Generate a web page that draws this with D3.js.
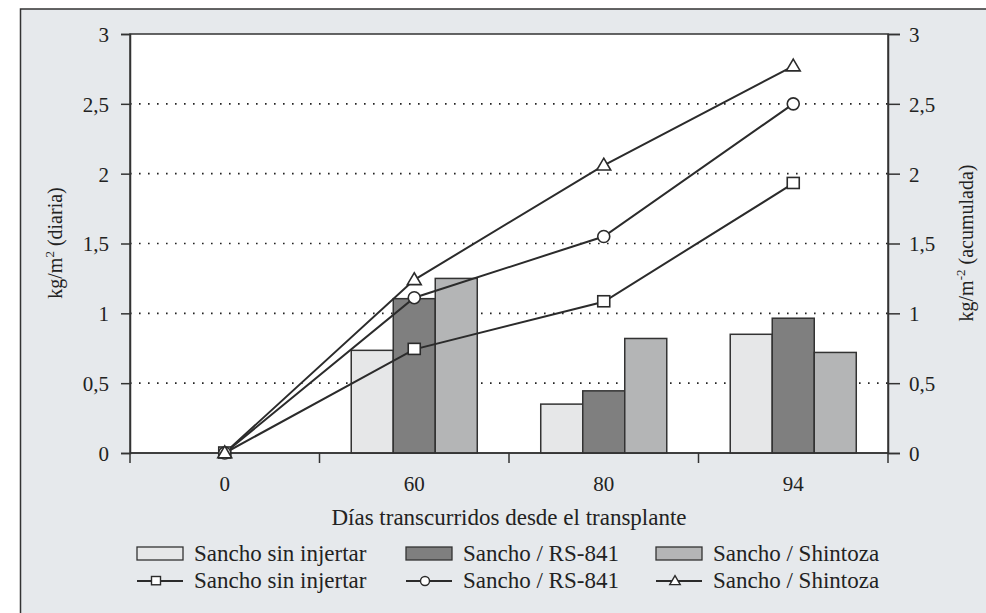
<!DOCTYPE html>
<html>
<head>
<meta charset="utf-8">
<script src="https://cdn.jsdelivr.net/npm/d3@7"></script>
<style>
  body { margin: 0; background: #fff; }
  svg { display: block; font-family: "Liberation Serif", "Times New Roman", serif; }
  .axis path, .axis line { stroke: #333; stroke-width: 1.5; }
  .axis text { font-size: 21px; fill: #222; font-family: "Liberation Serif", "Times New Roman", serif; }
</style>
</head>
<body>
<svg width="986" height="613"></svg>
<script>
// days since transplant (x categories)
const days = ['0', '60', '80', '94'];
const series = ['Sancho sin injertar', 'Sancho / RS-841', 'Sancho / Shintoza'];

// kg/m2 daily (bars) - no bars at day 0
const diaSinInjertar = [null, 0.735, 0.35, 0.85];
const diaRS841 = [null, 1.105, 0.445, 0.965];
const diaShintoza = [null, 1.25, 0.82, 0.72];

// kg/m2 accumulated (lines)
const acuSinInjertar = [0, 0.742, 1.083, 1.93];
const acuRS841 = [0, 1.112, 1.55, 2.50];
const acuShintoza = [0, 1.24, 2.06, 2.77];

const yTicks = [0, 0.5, 1, 1.5, 2, 2.5, 3];
const barColors = ['#e6e7e8', '#7f7f7f', '#b4b5b6'];
const markers = ['square', 'circle', 'triangle'];

const svg = d3.select('svg');
const fmt = (d) => String(d).replace('.', ',');

const plotLeft = 130, plotRight = 888, plotTop = 34, plotBottom = 453;

// grey page panel
svg.append('rect')
  .attr('x', 20.5).attr('y', 9)
  .attr('width', 1000).attr('height', 700)
  .attr('fill', '#e6e9ec')
  .attr('stroke', '#333').attr('stroke-width', 1.5);

const x = d3.scaleBand().domain(days).range([plotLeft, plotRight]).padding(0);
const groupW = x.bandwidth() * 0.665;
const xSub = d3.scaleBand().domain(series).range([0, groupW]).padding(0);
const y = d3.scaleLinear().domain([0, 3]).range([plotBottom, plotTop]);
const y2 = d3.scaleLinear().domain([0, 3]).range([plotBottom, plotTop]);

// plot background + frame
svg.append('rect')
  .attr('x', plotLeft).attr('y', plotTop)
  .attr('width', plotRight - plotLeft).attr('height', plotBottom - plotTop)
  .attr('fill', '#fff')
  .attr('stroke', '#333').attr('stroke-width', 1.5);

// dotted grid
svg.append('g')
  .selectAll('line')
  .data(yTicks.filter((t) => t > 0 && t < 3))
  .enter()
  .append('line')
  .attr('x1', plotLeft).attr('x2', plotRight)
  .attr('y1', (d) => y(d)).attr('y2', (d) => y(d))
  .attr('stroke', '#222')
  .attr('stroke-width', 1.6)
  .attr('stroke-dasharray', '1.6,7.4');

// bars
const barData = [diaSinInjertar, diaRS841, diaShintoza];
const barGroups = svg.append('g')
  .selectAll('g')
  .data(series)
  .enter()
  .append('g')
  .attr('fill', (s, i) => barColors[i]);

barGroups.selectAll('rect')
  .data((s, i) => days.map((d, j) => ({ day: d, serie: s, value: barData[i][j] })).filter((d) => d.value !== null))
  .enter()
  .append('rect')
  .attr('x', (d) => x(d.day) + (x.bandwidth() - groupW) / 2 + xSub(d.serie))
  .attr('y', (d) => y(d.value))
  .attr('width', xSub.bandwidth())
  .attr('height', (d) => y(0) - y(d.value))
  .attr('stroke', '#333')
  .attr('stroke-width', 1.5);

// axes
const axisLeft = d3.axisLeft(y).tickValues(yTicks).tickFormat(fmt).tickSize(9).tickPadding(12);
const axisRight = d3.axisRight(y2).tickValues(yTicks).tickFormat(fmt).tickSize(12).tickPadding(9);
const axisBottom = d3.axisBottom(x).tickSize(0).tickPadding(23);

svg.append('g').attr('class', 'axis').attr('transform', `translate(${plotLeft},0)`).call(axisLeft);
svg.append('g').attr('class', 'axis').attr('transform', `translate(${plotRight},0)`).call(axisRight);
const xa = svg.append('g').attr('class', 'axis').attr('transform', `translate(0,${plotBottom})`).call(axisBottom);
xa.select('.domain').remove();
svg.selectAll('.axis text').attr('dy', '0.35em');
xa.selectAll('text').attr('dy', '0.71em');

// x ticks at the band boundaries
svg.append('g')
  .selectAll('line')
  .data(days.concat(['end']))
  .enter()
  .append('line')
  .attr('x1', (d) => d === 'end' ? plotRight : x(d))
  .attr('x2', (d) => d === 'end' ? plotRight : x(d))
  .attr('y1', plotBottom).attr('y2', plotBottom + 10)
  .attr('stroke', '#333').attr('stroke-width', 1.5);
svg.append('line')
  .attr('x1', plotLeft).attr('x2', plotRight)
  .attr('y1', plotBottom).attr('y2', plotBottom)
  .attr('stroke', '#333').attr('stroke-width', 1.5);

// accumulated lines
const lineData = [acuSinInjertar, acuRS841, acuShintoza];
const cx = (d) => x(d) + x.bandwidth() / 2;
const line = d3.line()
  .x((d) => cx(d.day))
  .y((d) => y2(d.value));

function drawMarker(g, type, px, py, size) {
  if (type === 'square') {
    g.append('rect')
      .attr('x', px - size / 2).attr('y', py - size / 2)
      .attr('width', size).attr('height', size * 0.92);
  } else if (type === 'circle') {
    g.append('circle').attr('cx', px).attr('cy', py).attr('r', size / 2);
  } else {
    const h = size * 0.95;
    g.append('path')
      .attr('d', `M${px},${py - h * 0.62}L${px + size * 0.58},${py + h * 0.42}L${px - size * 0.58},${py + h * 0.42}Z`);
  }
}

lineData.forEach((vals) => {
  const pts = days.map((d, j) => ({ day: d, value: vals[j] }));
  svg.append('path')
    .datum(pts)
    .attr('d', line)
    .attr('fill', 'none')
    .attr('stroke', '#2b2b2b')
    .attr('stroke-width', 2);
});
lineData.forEach((vals, i) => {
  const g = svg.append('g').attr('fill', '#fff').attr('stroke', '#2b2b2b').attr('stroke-width', 1.6);
  days.forEach((d, j) => drawMarker(g, markers[i], cx(d), y2(vals[j]), 12));
});

// axis titles
const yl = svg.append('text')
  .attr('transform', 'translate(62,243) rotate(-90)')
  .attr('text-anchor', 'middle')
  .attr('font-size', 20)
  .attr('fill', '#222');
yl.append('tspan').text('kg/m');
yl.append('tspan').attr('font-size', 13).attr('dy', -8).text('2');
yl.append('tspan').attr('dy', 8).text(' (diaria)');

const yr = svg.append('text')
  .attr('transform', 'translate(973,243) rotate(-90)')
  .attr('text-anchor', 'middle')
  .attr('font-size', 20)
  .attr('fill', '#222');
yr.append('tspan').text('kg/m');
yr.append('tspan').attr('font-size', 13).attr('dy', -8).text('-2');
yr.append('tspan').attr('dy', 8).text(' (acumulada)');

svg.append('text')
  .attr('x', (plotLeft + plotRight) / 2)
  .attr('y', 525)
  .attr('text-anchor', 'middle')
  .attr('font-size', 23)
  .attr('fill', '#222')
  .text('Días transcurridos desde el transplante');

// legend
const legX = [137, 406, 656];
const leg = svg.append('g').attr('font-size', 23).attr('fill', '#222');
series.forEach((s, i) => {
  leg.append('rect')
    .attr('x', legX[i]).attr('y', 547)
    .attr('width', 46).attr('height', 13)
    .attr('fill', barColors[i])
    .attr('stroke', '#333').attr('stroke-width', 1.3);
  leg.append('text').attr('x', legX[i] + 57).attr('y', 561).text(s);

  leg.append('line')
    .attr('x1', legX[i]).attr('x2', legX[i] + 46)
    .attr('y1', 581).attr('y2', 581)
    .attr('stroke', '#2b2b2b').attr('stroke-width', 2);
  const mg = leg.append('g').attr('fill', '#fff').attr('stroke', '#2b2b2b').attr('stroke-width', 1.4);
  drawMarker(mg, markers[i], legX[i] + 19, 581, 9);
  leg.append('text').attr('x', legX[i] + 57).attr('y', 588).text(s);
});
</script>
</body>
</html>
